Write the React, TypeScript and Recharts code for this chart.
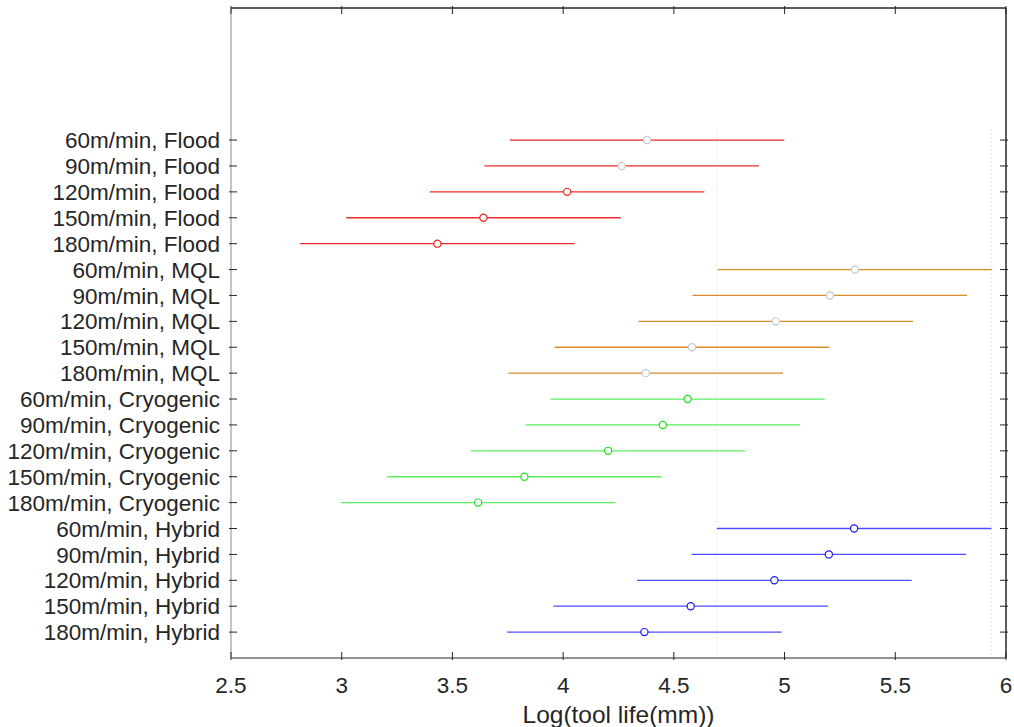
import { ScatterChart, Scatter, ErrorBar, XAxis, YAxis, ReferenceLine } from 'recharts'

// group means, half-width of the comparison interval is shared
const speeds = ['60m/min', '90m/min', '120m/min', '150m/min', '180m/min']
const floodMeans = [4.379, 4.264, 4.018, 3.64, 3.432]
const mqlMeans = [5.318, 5.205, 4.96, 4.582, 4.373]
const cryoMeans = [4.562, 4.45, 4.203, 3.825, 3.616]
const hybridMeans = [5.314, 5.2, 4.954, 4.576, 4.367]
const halfWidth = 0.62
const xTicks = [2.5, 3, 3.5, 4, 4.5, 5, 5.5, 6]

const INK = '#262626'
const FONT = '"Liberation Sans", Arial, sans-serif'
const X_DOMAIN: [number, number] = [2.5, 6]
const Y_DOMAIN: [number, number] = [0, 25.1]

const groups = [
  { name: 'Flood', means: floodMeans, line: '#ee2b2b', marker: ['#c8c8c8', '#c8c8c8', '#ee2222', '#ee2222', '#ee2222'] },
  { name: 'MQL', means: mqlMeans, line: '#d98a2b', marker: ['#c8c8c8', '#c8c8c8', '#c8c8c8', '#c8c8c8', '#c8c8c8'] },
  { name: 'Cryogenic', means: cryoMeans, line: '#5fee5f', marker: ['#1fdd1f', '#1fdd1f', '#1fdd1f', '#1fdd1f', '#1fdd1f'] },
  { name: 'Hybrid', means: hybridMeans, line: '#4d4dff', marker: ['#1a1aee', '#1a1aee', '#1a1aee', '#1a1aee', '#1a1aee'] },
]

const rowCount = groups.length * speeds.length
const labels: Record<number, string> = {}
const series = groups.map((g, gi) =>
  g.means.map((m, si) => {
    const row = rowCount - (gi * speeds.length + si)
    labels[row] = `${speeds[si]}, ${g.name}`
    return { x: m, y: row, err: halfWidth, mc: g.marker[si] }
  })
)
const allPoints = series.flat()
const yTicks = Object.keys(labels).map(Number).sort((a, b) => a - b)

// dotted lines mark the interval of the selected group (60m/min, Hybrid)
const refLo = hybridMeans[0] - halfWidth
const refHi = hybridMeans[0] + halfWidth

const Marker = (p: any) => (
  <circle cx={p.cx} cy={p.cy} r={3.6} fill="#ffffff" stroke={p.payload.mc} strokeWidth={1.2} />
)
const Nothing = () => <g />

const LeftTick = ({ x, y, payload }: any) => (
  <g>
    <line x1={x} x2={x + 8} y1={y} y2={y} stroke={INK} />
    <text x={x - 9} y={y} dy="0.36em" textAnchor="end" fontSize={22.5} fill={INK} fontFamily={FONT}>
      {labels[payload.value]}
    </text>
  </g>
)
const RightTick = ({ x, y }: any) => <line x1={x - 8} x2={x} y1={y} y2={y} stroke={INK} />
const BottomTick = ({ x, y, payload }: any) => (
  <g>
    <line x1={x} x2={x} y1={y - 8} y2={y} stroke={INK} />
    <text x={x} y={y + 33} textAnchor="middle" fontSize={22.5} fill={INK} fontFamily={FONT}>
      {payload.value}
    </text>
  </g>
)
const TopTick = ({ x, y }: any) => <line x1={x} x2={x} y1={y} y2={y + 8} stroke={INK} />

export default function App() {
  return (
    <div style={{ position: 'absolute', left: 0, top: 0, background: '#fff' }}>
      <ScatterChart width={1014} height={727} margin={{ top: 7, right: 7, bottom: 0, left: 0 }}>
        <XAxis
          xAxisId="b"
          type="number"
          dataKey="x"
          domain={X_DOMAIN}
          ticks={xTicks}
          height={69}
          tickSize={0}
          tickLine={false}
          tick={<BottomTick />}
          stroke={INK}
          label={{ value: 'Log(tool life(mm))', position: 'insideBottom', offset: 4, fontSize: 24.5, fill: INK, fontFamily: FONT }}
        />
        <XAxis
          xAxisId="t"
          orientation="top"
          type="number"
          dataKey="x"
          domain={X_DOMAIN}
          ticks={xTicks}
          height={1}
          tickSize={0}
          tickLine={false}
          tick={<TopTick />}
          stroke={INK}
        />
        <YAxis
          yAxisId="l"
          type="number"
          dataKey="y"
          domain={Y_DOMAIN}
          ticks={yTicks}
          width={231}
          tickSize={0}
          tickLine={false}
          tick={<LeftTick />}
          stroke="#8a8a8a"
        />
        <YAxis
          yAxisId="r"
          orientation="right"
          type="number"
          dataKey="y"
          domain={Y_DOMAIN}
          ticks={yTicks}
          width={1}
          tickSize={0}
          tickLine={false}
          tick={<RightTick />}
          stroke={INK}
        />
        {/* plot box */}
        <ReferenceLine xAxisId="b" yAxisId="l" x={X_DOMAIN[1]} stroke={INK} />
        <ReferenceLine xAxisId="b" yAxisId="l" y={Y_DOMAIN[1]} stroke={INK} />
        {[refLo, refHi].map((v) => (
          <ReferenceLine
            key={v}
            xAxisId="b"
            yAxisId="l"
            segment={[{ x: v, y: 0 }, { x: v, y: rowCount + 0.5 }]}
            stroke="#d4d4d4"
            strokeDasharray="1 3"
          />
        ))}
        {/* hidden series so the mirrored top/right axes get drawn */}
        <Scatter
          xAxisId="t"
          yAxisId="r"
          data={allPoints}
          shape={<Nothing />}
          legendType="none"
          isAnimationActive={false}
        />
        {groups.map((g, gi) => (
          <Scatter
            key={g.name}
            xAxisId="b"
            yAxisId="l"
            data={series[gi]}
            shape={<Marker />}
            isAnimationActive={false}
          >
            <ErrorBar dataKey="err" direction="x" width={0} stroke={g.line} strokeWidth={1.3} />
          </Scatter>
        ))}
      </ScatterChart>
    </div>
  )
}
